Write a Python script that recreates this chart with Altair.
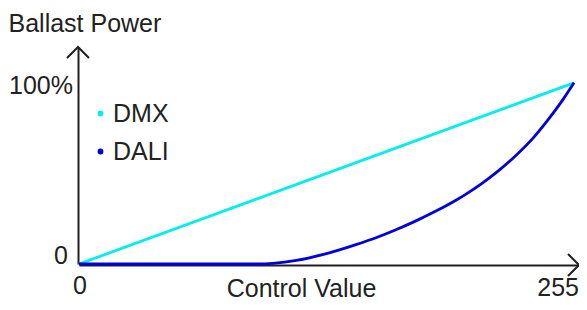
import altair as alt
import pandas as pd

# ---- data ----
series_names = ["DMX", "DALI"]
dmx_control = [0, 255]
dmx_power = [0, 100]
dali_control = [0, 92, 100, 112, 127, 142.7, 153, 163.3, 173.6, 183.9, 194.2, 199.4, 208, 216.5, 225.1, 233.7, 242.3, 249.5, 255]
dali_power = [0, 0, 0.4, 2.0, 5.6, 10.7, 14.5, 18.9, 23.8, 29.2, 35.2, 38.6, 44.8, 51.8, 59.9, 69.2, 80.5, 91.0, 100]
x_tick_values = [0, 255]
x_tick_labels = ["0", "255"]
y_tick_values = [0, 100]
y_tick_labels = ["0", "100%"]
x_title = "Control Value"
y_title = "Ballast Power"

X_MAX = 257.6
Y_MAX = 119.8
FONT = "Liberation Sans"
FS = 25
TEXT = "#222222"
AXIS = "#231f20"
COLORS = ["#00EEEE", "#0000DD"]

rows = []
for xv, yv in zip(dmx_control, dmx_power):
    rows.append({"series": "DMX", "control": xv, "power": yv})
for xv, yv in zip(dali_control, dali_power):
    rows.append({"series": "DALI", "control": xv, "power": yv})
df = pd.DataFrame(rows)

xscale = alt.Scale(domain=[0, X_MAX], nice=False, zero=False)
yscale = alt.Scale(domain=[0, Y_MAX], nice=False, zero=False)
cscale = alt.Scale(domain=series_names, range=COLORS)

x_axis = alt.Axis(
    values=[], labels=False, ticks=False, grid=False, domainColor=AXIS, domainWidth=2,
    offset=1, title=x_title, titleFont=FONT, titleFontSize=FS, titleFontWeight="normal",
    titleColor=TEXT, titleX=222, titleY=31, titleAlign="center", titleBaseline="alphabetic",
)
y_axis = alt.Axis(
    values=[], labels=False, ticks=False, grid=False, domainColor=AXIS, domainWidth=2,
    offset=1, title=y_title, titleFont=FONT, titleFontSize=FS, titleFontWeight="normal",
    titleColor=TEXT, titleAngle=0, titleX=-70, titleY=-16, titleAlign="left",
    titleBaseline="alphabetic",
)

lines = alt.Chart(df).mark_line(strokeWidth=2.8, interpolate="monotone").encode(
    x=alt.X("control:Q", scale=xscale, axis=x_axis),
    y=alt.Y("power:Q", scale=yscale, axis=y_axis),
    color=alt.Color(
        "series:N",
        scale=cscale,
        legend=alt.Legend(
            title=None, orient="none", legendX=9, legendY=54, direction="vertical",
            symbolType="circle", symbolSize=8, symbolStrokeWidth=3, symbolOpacity=1,
            labelFontSize=FS, labelFont=FONT, labelColor=TEXT, labelOffset=0,
            rowPadding=12, padding=0, labelBaseline="middle", labelLimit=0,
        ),
    ),
    detail="series:N",
)

arrow_right = alt.Chart(pd.DataFrame({"x": [X_MAX], "y": [0]})).mark_point(
    shape="M -1 -1 L 0 0 L -1 1", size=484, filled=False, strokeWidth=2,
    color=AXIS, opacity=1, yOffset=1,
).encode(x=alt.X("x:Q", scale=xscale), y=alt.Y("y:Q", scale=yscale))

arrow_up = alt.Chart(pd.DataFrame({"x": [0], "y": [Y_MAX]})).mark_point(
    shape="M -1 1 L 0 0 L 1 1", size=484, filled=False, strokeWidth=2,
    color=AXIS, opacity=1, xOffset=-1,
).encode(x=alt.X("x:Q", scale=xscale), y=alt.Y("y:Q", scale=yscale))


def label(xv, yv, txt, align, dx, dy):
    d = pd.DataFrame({"x": [xv], "y": [yv], "t": [txt]})
    return alt.Chart(d).mark_text(
        align=align, baseline="alphabetic", dx=dx, dy=dy, font=FONT, fontSize=FS, color=TEXT,
    ).encode(x=alt.X("x:Q", scale=xscale), y=alt.Y("y:Q", scale=yscale), text="t:N")


labels = [
    label(x_tick_values[0], 0, x_tick_labels[0], "center", 1, 30),
    label(x_tick_values[1], 0, x_tick_labels[1], "right", 5, 32),
    label(0, y_tick_values[0], y_tick_labels[0], "right", -11, 0),
    label(0, y_tick_values[1], y_tick_labels[1], "right", -6, 11),
]

chart = (
    alt.layer(lines, arrow_right, arrow_up, *labels)
    .properties(
        width=500, height=217,
        autosize=alt.AutoSizeParams(type="none"),
        padding={"left": 71, "top": 39, "right": 0, "bottom": 38},
    )
    .configure(font=FONT)
    .configure_view(stroke="transparent", strokeWidth=0)
)

chart.save("out.html", embed_options={"renderer": "svg", "actions": False})
